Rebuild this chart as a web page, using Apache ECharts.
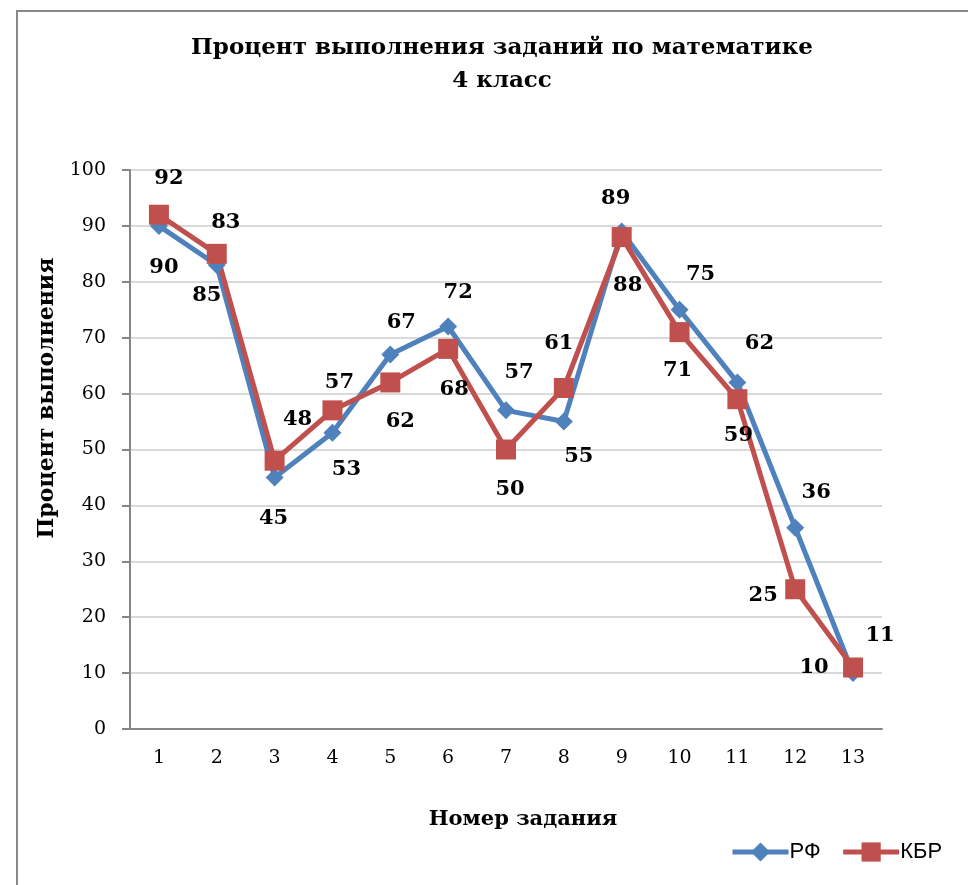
<!DOCTYPE html>
<html>
<head>
<meta charset="utf-8">
<script src="https://cdn.jsdelivr.net/npm/echarts@6/dist/echarts.min.js"></script>
<style>
html,body{margin:0;padding:0;background:#fff;}
#chart{width:968px;height:885px;}
</style>
</head>
<body>
<div id="chart"></div>
<script>
const categories = ['1','2','3','4','5','6','7','8','9','10','11','12','13'];
const rfValues = [90, 83, 45, 53, 67, 72, 57, 55, 89, 75, 62, 36, 10];
const kbrValues = [92, 85, 48, 57, 62, 68, 50, 61, 88, 71, 59, 25, 11];
const seriesNames = ['РФ', 'КБР'];
const titleText = 'Процент выполнения заданий по математике\n4 класс';
const xTitle = 'Номер задания';
const yTitle = 'Процент выполнения';

// label placement (style only)
const rfLabelOffsets = [[5,42],[9,-42],[-1,41],[14,37],[11,-32],[10,-34],[13,-38],[15,35],[-6,-33],[21,-35],[22,-39],[21,-35],[-39,-6]];
const kbrLabelOffsets = [[10,-36],[-10,42],[23,-41],[7,-28],[10,39],[6,41],[4,40],[-5,-44],[6,48],[-2,38],[1,36],[-32,6],[27,-32]];

const serif = 'DejaVu Serif';
const labelStyle = {show:true, position:'inside', fontFamily:serif, fontWeight:'bold', fontSize:21, color:'#000'};

function build(values, offsets){
  return values.map((v,i)=>({value:v, label:Object.assign({}, labelStyle, {offset:offsets[i]})}));
}

const chart = echarts.init(document.getElementById('chart'));
chart.setOption({
  animation:false,
  backgroundColor:'#fff',
  grid:{left:130, right:86, top:170, bottom:156},
  xAxis:{
    type:'category', data:categories, boundaryGap:true,
    axisLine:{lineStyle:{color:'#868686', width:2}},
    axisTick:{show:false},
    axisLabel:{fontFamily:serif, fontSize:19, color:'#000', margin:20}
  },
  yAxis:{
    type:'value', min:0, max:100, interval:10,
    axisLine:{show:true, lineStyle:{color:'#868686', width:2}},
    axisTick:{show:true, length:8, lineStyle:{color:'#868686', width:2}},
    axisLabel:{fontFamily:serif, fontSize:19, color:'#000', margin:24},
    splitLine:{lineStyle:{color:'#d9d9d9', width:2}}
  },
  legend:{
    left:725, top:836, itemWidth:56, itemHeight:24, itemGap:20,
    lineStyle:{width:5},
    textStyle:{fontFamily:'Liberation Sans', fontSize:22, color:'#000', padding:[0,0,0,-4]},
    data:seriesNames
  },
  graphic:[
    {type:'rect', shape:{x:17, y:11, width:1200, height:1200}, style:{fill:'none', stroke:'#878787', lineWidth:2}, silent:true},
    {type:'text', x:502, y:32, style:{text:titleText, textAlign:'center', fontFamily:serif, fontWeight:'bold', fontSize:23, lineHeight:33, fill:'#000'}},
    {type:'text', x:523, y:820, style:{text:xTitle, textAlign:'center', textVerticalAlign:'middle', fontFamily:serif, fontWeight:'bold', fontSize:21, fill:'#000'}},
    {type:'text', x:47, y:398, rotation:Math.PI/2, style:{text:yTitle, textAlign:'center', textVerticalAlign:'middle', fontFamily:serif, fontWeight:'bold', fontSize:22, fill:'#000'}}
  ],
  series:[
    {name:seriesNames[0], type:'line', data:build(rfValues, rfLabelOffsets),
     symbol:'diamond', symbolSize:18,
     lineStyle:{color:'#4F81BD', width:5}, itemStyle:{color:'#4F81BD'}},
    {name:seriesNames[1], type:'line', data:build(kbrValues, kbrLabelOffsets),
     symbol:'rect', symbolSize:20,
     lineStyle:{color:'#C0504D', width:5}, itemStyle:{color:'#C0504D'}}
  ]
});
</script>
</body>
</html>
